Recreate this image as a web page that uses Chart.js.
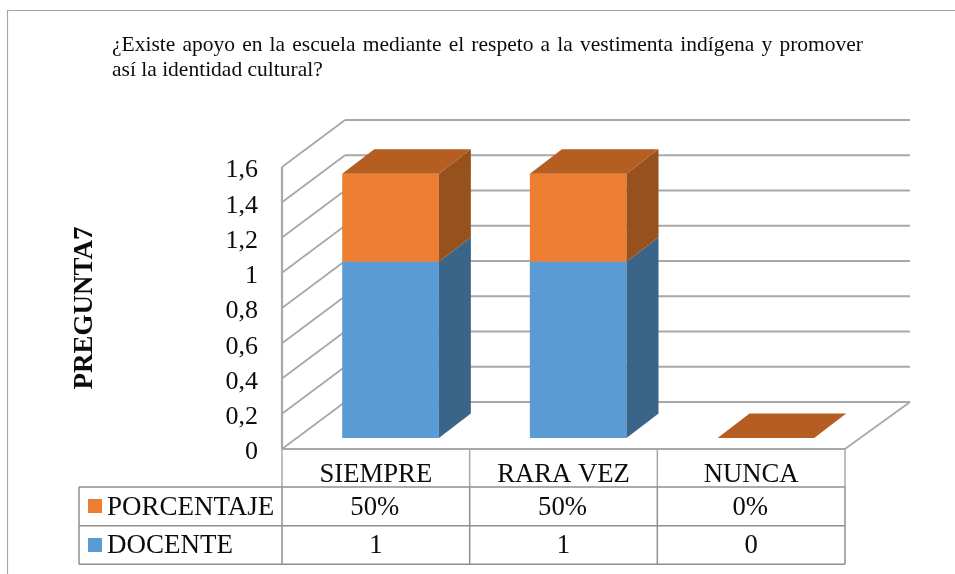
<!DOCTYPE html>
<html lang="es"><head><meta charset="utf-8">
<style>html,body{margin:0;padding:0;background:#fff}canvas{display:block;filter:blur(.4px)}</style>
<script src="https://cdn.jsdelivr.net/npm/chart.js@4"></script></head>
<body><canvas id="c" width="955" height="574"></canvas>
<script>
const categories = ['SIEMPRE','RARA VEZ','NUNCA'];
const docente = [1,1,0];
const porcentaje = [0.5,0.5,0];
const seriesNames = ['DOCENTE','PORCENTAJE'];
const titleLines = ['¿Existe apoyo en la escuela mediante el respeto a la vestimenta indígena y promover','así la identidad cultural?'];
const axisTitle = 'PREGUNTA7';
const FONT = '"Liberation Serif","Times New Roman",serif';
const GRID = '#a8a8a8', TABLE = '#8f8f8f', INK = '#0c0c0c';
const DEPTH = {x:63,y:-47}, BAR = {dx:14.7,dy:-11}, BARD = {x:32,y:-24.5};
const faces = [
 {side:'#3a6588'},
 {side:'#97511c',top:'#b55e22'}
];
function poly(ctx,pts,fill){ctx.beginPath();pts.forEach((p,i)=>i?ctx.lineTo(p[0],p[1]):ctx.moveTo(p[0],p[1]));ctx.closePath();ctx.fillStyle=fill;ctx.fill();}
function line(ctx,x1,y1,x2,y2,color,w){ctx.beginPath();ctx.moveTo(x1,y1);ctx.lineTo(x2,y2);ctx.strokeStyle=color;ctx.lineWidth=w;ctx.stroke();}
const scene = {
 id:'scene',
 beforeDraw(chart){
  const ctx=chart.ctx;ctx.save();
  line(ctx,7.5,10,7.5,574,'#a6a6a6',1.2);line(ctx,7,10.5,955,10.5,'#a6a6a6',1.2);
  ctx.fillStyle=INK;ctx.textBaseline='alphabetic';ctx.textAlign='left';
  ctx.font='21.5px '+FONT;
  const w=ctx.measureText(titleLines[0]).width,n=titleLines[0].split(' ').length-1;
  ctx.wordSpacing=((751-w)/n)+'px';ctx.fillText(titleLines[0],112,51);
  ctx.wordSpacing='0px';ctx.fillText(titleLines[1],112,75.5);
  ctx.restore();
 },
 beforeDatasetsDraw(chart){
  const ctx=chart.ctx,{left,right,bottom}=chart.chartArea,y=chart.scales.y;
  ctx.save();
  const ticks=y.ticks.map(t=>y.getPixelForValue(t.value));
  ticks.forEach(py=>{
   line(ctx,left,py,left+DEPTH.x,py+DEPTH.y,GRID,1.8);
   line(ctx,left+DEPTH.x,py+DEPTH.y,right+DEPTH.x+2,py+DEPTH.y,GRID,1.8);
  });
  line(ctx,left,y.top,left,bottom,GRID,2.2);
  line(ctx,left,bottom,right,bottom,GRID,2.2);
  line(ctx,right,bottom,right+DEPTH.x+2,bottom+DEPTH.y,GRID,1.8);
  ctx.restore();
  ctx.save();ctx.translate(BAR.dx,BAR.dy);
 },
 afterDatasetsDraw(chart){
  const ctx=chart.ctx,dx=BARD.x,dy=BARD.y;
  chart.data.datasets.forEach((d,i)=>{
   chart.getDatasetMeta(i).data.forEach(b=>{
    const r=b.x+b.width/2,l=b.x-b.width/2;
    if(b.base-b.y>0)poly(ctx,[[r,b.y],[r+dx,b.y+dy],[r+dx,b.base+dy],[r,b.base]],faces[i].side);
    if(faces[i].top)poly(ctx,[[l,b.y],[l+dx,b.y+dy],[r+dx,b.y+dy],[r,b.y]],faces[i].top);
   });
  });
  ctx.restore();
 },
 afterDraw(chart){
  const ctx=chart.ctx,xs=chart.scales.x,{left,right,bottom}=chart.chartArea;
  const r0=487,r1=525.8,r2=564.3,tl=79,colW=(right-left)/categories.length;
  ctx.save();
  for(let i=0;i<=categories.length;i++){const x=left+i*colW;line(ctx,x,bottom,x,r0,GRID,1.5);line(ctx,x,r0,x,r2,TABLE,1.5);}
  line(ctx,tl,r0,tl,r2,TABLE,1.5);
  line(ctx,tl,r0,right,r0,TABLE,1.5);line(ctx,tl,r1,right,r1,TABLE,1.5);line(ctx,tl,r2,right,r2,TABLE,1.5);
  ctx.font='27px '+FONT;ctx.fillStyle=INK;ctx.textBaseline='alphabetic';ctx.textAlign='left';
  ctx.fillText(seriesNames[1],107,515);ctx.fillText(seriesNames[0],107,553);
  ctx.fillStyle=chart.data.datasets[1].backgroundColor;ctx.fillRect(88,499,14,14);
  ctx.fillStyle=chart.data.datasets[0].backgroundColor;ctx.fillRect(88,538,14,14);
  ctx.font='26.7px '+FONT;ctx.fillStyle=INK;ctx.textAlign='center';
  categories.forEach((c,i)=>{
   const x=xs.getPixelForValue(i);
   ctx.fillText(Math.round(porcentaje[i]*100)+'%',x-1,515);
   ctx.fillText(String(docente[i]),x,553);
  });
  ctx.restore();
 }
};
new Chart(document.getElementById('c'),{
 type:'bar',
 data:{labels:categories,datasets:[
  {label:seriesNames[0],data:docente,backgroundColor:'#5b9bd5',borderWidth:0,barPercentage:0.515,categoryPercentage:1},
  {label:seriesNames[1],data:porcentaje,backgroundColor:'#ed7d31',borderWidth:0,barPercentage:0.515,categoryPercentage:1}
 ]},
 options:{
  responsive:false,animation:false,
  layout:{padding:{left:69,top:167,right:110,bottom:87}},
  plugins:{legend:{display:false},title:{display:false},tooltip:{enabled:false}},
  scales:{
   x:{stacked:true,grid:{display:false},border:{display:false},
      afterFit(s){s.height=38;},
      ticks:{padding:2,color:INK,font:{family:FONT,size:26.7},maxRotation:0}},
   y:{stacked:true,min:0,max:1.6,grid:{display:false},border:{display:false},
      afterFit(s){s.width=213;},
      title:{display:true,text:axisTitle,color:INK,padding:{top:0,bottom:0},font:{family:FONT,size:27,weight:'bold'}},
      ticks:{stepSize:0.2,padding:16,labelOffset:3.5,color:INK,font:{family:FONT,size:26},
             callback:v=>String(Math.round(v*10)/10).replace('.',',')}}
  }
 },
 plugins:[scene]
});
</script></body></html>
